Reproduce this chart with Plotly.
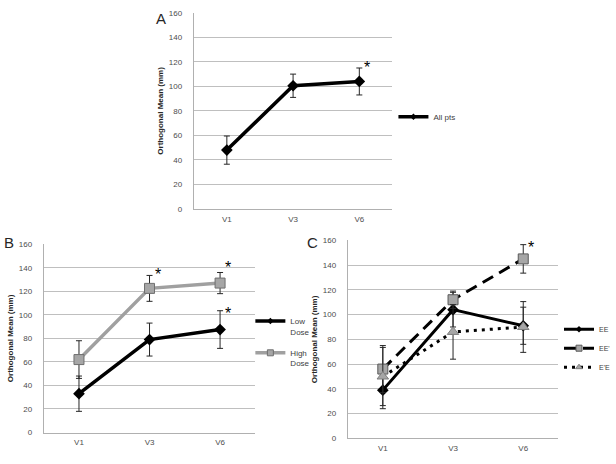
import plotly.graph_objects as go

visits = ["V1", "V3", "V6"]
y_ticks = [0, 20, 40, 60, 80, 100, 120, 140, 160]

# Panel A
all_pts = [48, 100.5, 104]
all_pts_err = [11.5, 9.5, 11]
star_a_x = ["V6"]
star_a_y = [115]

# Panel B
low_dose = [33, 79, 87.5]
low_dose_err = [15, 14, 16]
high_dose = [62, 122.5, 127]
high_dose_err = [16, 11, 9]
star_b_x = ["V3", "V6", "V6"]
star_b_y = [134, 140, 101]

# Panel C
ee = [39, 104, 91]
ee_err = [15, 14, 15]
ee_p = [56, 112, 145]
ee_p_err = [19, 7, 11.5]
epe = [50, 86, 90]
epe_err = [23.5, 22, 20.5]
star_c_x = ["V6"]
star_c_y = [154]

FONT = "Liberation Sans"
W, H = 616, 464

def px_x(p):
    return p / W

def px_y(p):
    return 1 - p / H

fig = go.Figure()

def err(vals, color="#262626"):
    return dict(type="data", array=vals, visible=True, thickness=1, width=3, color=color)

series = [
    # name, values, errors, axes, legend, line, marker
    ("All pts", all_pts, all_pts_err, ("x", "y"), "legend",
     dict(color="black", width=3.5),
     dict(symbol="diamond", size=9, color="black")),
    ("Low<br>Dose", low_dose, low_dose_err, ("x2", "y2"), "legend2",
     dict(color="black", width=3.5),
     dict(symbol="diamond", size=9, color="black")),
    ("High<br>Dose", high_dose, high_dose_err, ("x2", "y2"), "legend2",
     dict(color="#a0a0a0", width=3.5),
     dict(symbol="square", size=10, color="#a6a6a6", line=dict(color="#6f6f6f", width=1))),
    ("EE", ee, ee_err, ("x3", "y3"), "legend3",
     dict(color="black", width=3),
     dict(symbol="diamond", size=9, color="black")),
    ("EE'", ee_p, ee_p_err, ("x3", "y3"), "legend3",
     dict(color="black", width=3, dash="12px,7px"),
     dict(symbol="square", size=10, color="#a6a6a6", line=dict(color="#595959", width=1))),
    ("E'E", epe, epe_err, ("x3", "y3"), "legend3",
     dict(color="black", width=3, dash="3px,5px"),
     dict(symbol="triangle-up", size=10, color="#a6a6a6", line=dict(color="#7f7f7f", width=1))),
]

for i, (name, vals, errs, (xa, ya), leg, line, marker) in enumerate(series):
    fig.add_trace(go.Scatter(x=visits, y=vals, mode="lines+markers", name=name,
                             line=line, marker=marker, error_y=err(errs),
                             xaxis=xa, yaxis=ya, showlegend=False, hoverinfo="skip"))
    # legend entry with small marker, as in the reference
    small = dict(marker)
    small["size"] = max(5, marker["size"] - 4)
    fig.add_trace(go.Scatter(x=[None], y=[None], mode="lines+markers", name=name,
                             line=line, marker=small, xaxis=xa, yaxis=ya,
                             legend=leg, legendgroup="g%d" % i, showlegend=True))

# Asterisks
for xs, ys, xa, ya in [(star_a_x, star_a_y, "x", "y"), (star_b_x, star_b_y, "x2", "y2"),
                       (star_c_x, star_c_y, "x3", "y3")]:
    for xv, yv in zip(xs, ys):
        fig.add_annotation(x=xv, y=yv, xref=xa, yref=ya, text="*", showarrow=False,
                           xshift=8, xanchor="center", yanchor="middle",
                           font=dict(family=FONT, size=16, color="black"))

# Panel labels
for lbl, x, y in [("A", 162, 15), ("B", 9, 243), ("C", 315, 243)]:
    fig.add_annotation(x=px_x(x), y=px_y(y), xref="paper", yref="paper", text=lbl,
                       showarrow=False, xanchor="center", yanchor="middle",
                       font=dict(family=FONT, size=15, color="#262626"))

def xax(domain, anchor):
    return dict(domain=domain, anchor=anchor, type="category", range=[-0.5, 2.5],
                showgrid=False, showline=True, linecolor="#b0b0b0", linewidth=1,
                ticks="", tickfont=dict(family=FONT, size=8, color="#4d4d4d"),
                ticklabelstandoff=2, fixedrange=True)

def yax(domain, anchor):
    return dict(domain=domain, anchor=anchor, range=[0, 160], tickvals=y_ticks,
                showgrid=True, gridcolor="#bfbfbf", gridwidth=1, zeroline=False,
                showline=True, linecolor="#b0b0b0", linewidth=1, fixedrange=True,
                ticks="", tickfont=dict(family=FONT, size=8, color="#4d4d4d"),
                ticklabelstandoff=9,
                title=dict(text="<b>Orthogonal Mean (mm)</b>",
                           font=dict(family=FONT, size=8, color="#262626"), standoff=3))

LEG_FONT = dict(family=FONT, size=8, color="#404040")
fig.update_layout(
    width=W, height=H, margin=dict(l=0, r=0, t=0, b=0),
    paper_bgcolor="white", plot_bgcolor="white", showlegend=True,
    font=dict(family=FONT, size=8, color="#404040"),
    xaxis=xax([px_x(195), px_x(395)], "y"),
    yaxis=yax([px_y(209), px_y(9)], "x"),
    xaxis2=xax([px_x(44), px_x(257)], "y2"),
    yaxis2=yax([px_y(437), px_y(245)], "x2"),
    xaxis3=xax([px_x(350), px_x(562)], "y3"),
    yaxis3=yax([px_y(443), px_y(241)], "x3"),
    legend=dict(x=px_x(396), y=px_y(115), xanchor="left", yanchor="middle", visible=True,
                bgcolor="rgba(0,0,0,0)", itemwidth=30, font=LEG_FONT),
    legend2=dict(x=px_x(252), y=px_y(345), xanchor="left", yanchor="middle",
                 bgcolor="rgba(0,0,0,0)", itemwidth=30, traceorder="grouped",
                 tracegroupgap=8, valign="top", font=LEG_FONT),
    legend3=dict(x=px_x(563), y=px_y(351), xanchor="left", yanchor="middle",
                 bgcolor="rgba(0,0,0,0)", itemwidth=30, traceorder="grouped",
                 tracegroupgap=0,
                 font=dict(family=FONT, size=7, color="#404040")),
)

fig.write_html("out.html", config={"displayModeBar": False},
               post_script="document.body.style.margin='0';document.body.style.overflow='hidden';")
